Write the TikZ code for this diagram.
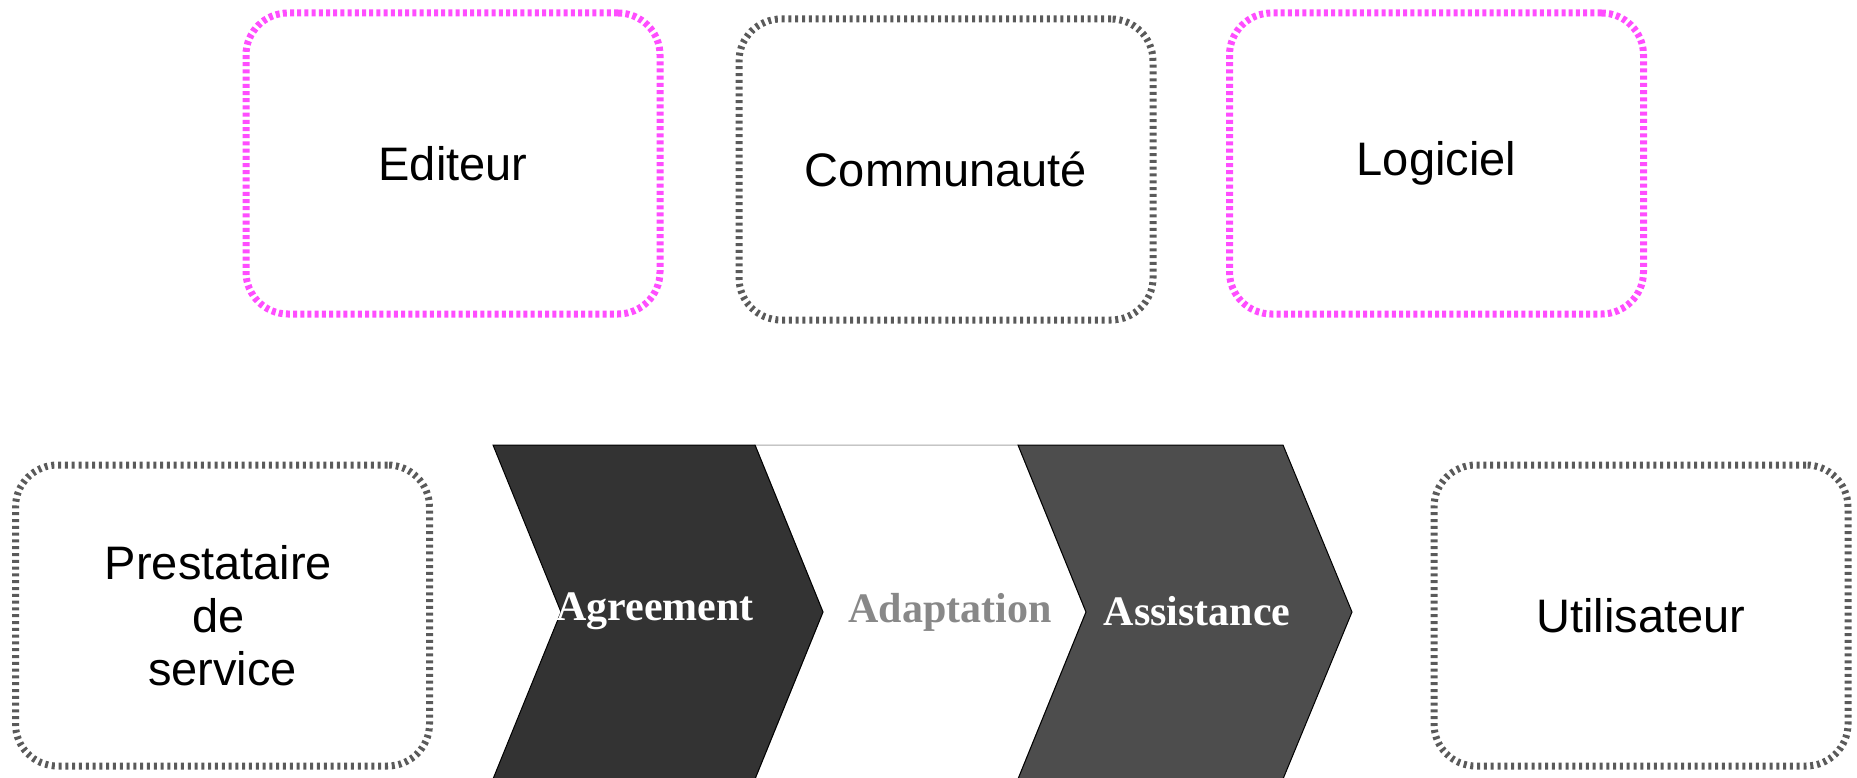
\documentclass[tikz,border=0pt]{standalone}
\usepackage{fontspec}
\setmainfont{Liberation Serif}
\setsansfont{Liberation Sans}
\definecolor{pinkdash}{RGB}{255,77,255}
\definecolor{graydash}{RGB}{90,90,90}
\definecolor{chevA}{RGB}{51,51,51}
\definecolor{chevC}{RGB}{77,77,77}
\definecolor{adapt}{RGB}{136,136,136}
\begin{document}
\begin{tikzpicture}[x=1pt,y=-1pt,
  actorbox/.style={draw, line width=7pt, rounded corners=42pt, minimum width=414pt, minimum height=301pt,
    font=\sffamily\fontsize{47}{53}\selectfont, align=center, inner sep=0pt},
  pinkbox/.style={actorbox, draw=pinkdash, dash pattern=on 4pt off 3.2pt},
  graybox/.style={actorbox, draw=graydash, dash pattern=on 3pt off 3.8pt},
  chevlabel/.style={font=\bfseries\fontsize{42}{48}\selectfont, inner sep=0pt}
]
\useasboundingbox (0,0) rectangle (1857,778);
\node[pinkbox] (editeur) at (453,163.5) {Editeur};
\node[graybox] (communaute) at (946,169.5) {Communauté};
\node[pinkbox] (logiciel) at (1436.5,163.5) {Logiciel};
\node[graybox, align=center] (prestataire) at (222.5,615.5) {\hspace*{-8pt}Prestataire\hspace*{0pt}\\\hspace*{-8pt}de\\service};
\node[graybox] (utilisateur) at (1641,615.5) {Utilisateur};
% chevrons
\path[fill=white, draw=gray!70, line width=1pt] (755,445) -- (1018,445) -- (1086,612) -- (1018,779) -- (755,779) -- (823,612) -- cycle;
\path[fill=chevA, draw=black, line width=1pt] (493,445) -- (755,445) -- (823,612) -- (755,779) -- (493,779) -- (561,612) -- cycle;
\path[fill=chevC, draw=black, line width=1pt] (1018,445) -- (1283,445) -- (1352,612) -- (1283,779) -- (1018,779) -- (1086,612) -- cycle;
\node[chevlabel, text=white] (agreement) at (655,611) {Agreement};
\node[chevlabel, text=adapt] (adaptation) at (950,612) {Adaptation};
\node[chevlabel, text=white] (assistance) at (1197,611) {Assistance};
\end{tikzpicture}
\end{document}
